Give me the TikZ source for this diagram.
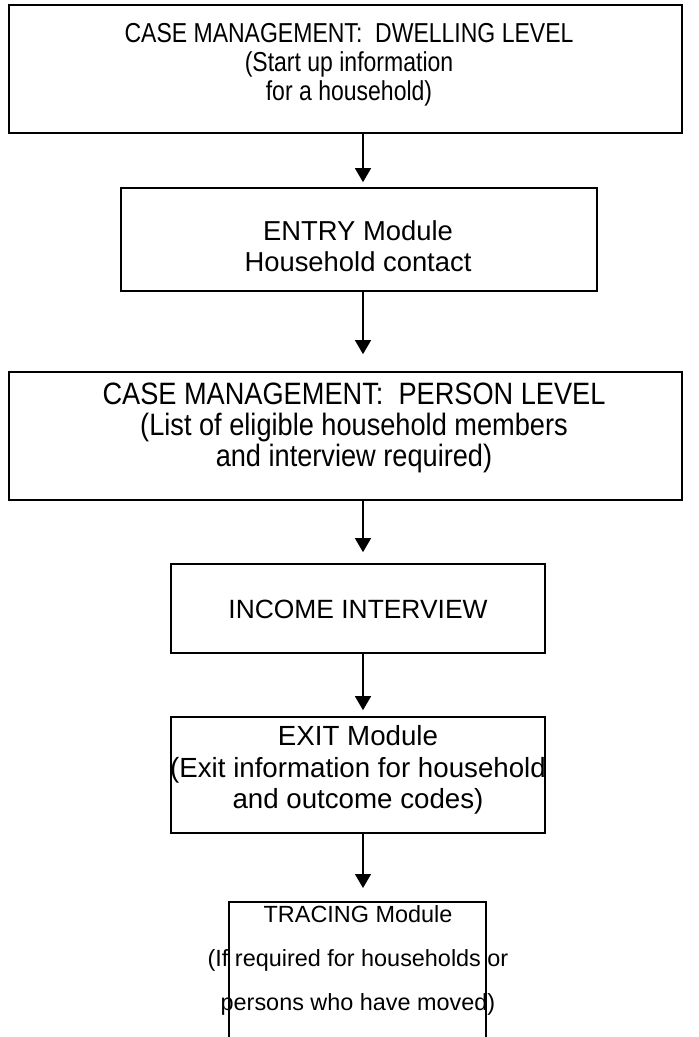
\documentclass[tikz,border=0pt]{standalone}
\usepackage{fontspec}
\setmainfont{Liberation Sans}
\newfontfamily\narrowfont[FakeStretch=0.84]{Liberation Sans}
\newfontfamily\narrowfontb[FakeStretch=0.88]{Liberation Sans}
\usetikzlibrary{arrows.meta}
\begin{document}
\begin{tikzpicture}[x=1bp,y=-1bp,
  box/.style={draw, line width=1.7bp, inner sep=0pt},
  txt/.style={align=center, inner sep=0pt},
  arr/.style={line width=1.4bp, -{Triangle[width=16bp,length=14bp]}}]
\useasboundingbox (0,0) rectangle (699,1037);
\fill[white] (0,0) rectangle (699,1037);
% boxes
\node[box, minimum width=673bp, minimum height=128bp] (b1) at (345.5,69) {};
\node[box, minimum width=476bp, minimum height=103bp] (b2) at (359,239.5) {};
\node[box, minimum width=673bp, minimum height=128bp] (b3) at (345.5,436) {};
\node[box, minimum width=374bp, minimum height=89bp] (b4) at (358,608.5) {};
\node[box, minimum width=374bp, minimum height=116bp] (b5) at (358,775) {};
\coordinate (b6tl) at (229,902);
\coordinate (b6tr) at (486,902);
\coordinate (b6bl) at (229,1037);
\coordinate (b6br) at (486,1037);
\draw[line width=1.7bp] (b6bl) -- (b6tl) -- (b6tr) -- (b6br);
% texts
\node[txt, font=\narrowfont\fontsize{27.5}{29}\selectfont] (t1) at (349,65) {CASE MANAGEMENT:\ \ DWELLING LEVEL\\(Start up information\\for a household)};
\node[txt, font=\fontsize{27.5}{31}\selectfont] (t2) at (358,246) {ENTRY Module\\Household contact};
\node[txt, font=\narrowfontb\fontsize{31}{31.5}\selectfont] (t3) at (354,428) {CASE MANAGEMENT:\ \ PERSON LEVEL\\(List of eligible household members\\and interview required)};
\node[txt, font=\fontsize{26.5}{31}\selectfont] (t4) at (358,609) {INCOME INTERVIEW};
\node[txt, font=\fontsize{27.8}{31.5}\selectfont] (t5) at (358,770) {EXIT Module\\(Exit information for household\\and outcome codes)};
\node[txt, font=\fontsize{23.5}{44.5}\selectfont, anchor=north] (t6) at (358,905) {TRACING Module\\(If required for households or\\persons who have moved)};
% arrows
\coordinate (ax) at (363,0);
\draw[arr] (b1.south -| ax) -- ([yshift=5bp]b2.north -| ax);
\draw[arr] (b2.south -| ax) -- ([yshift=17bp]b3.north -| ax);
\draw[arr] (b3.south -| ax) -- ([yshift=11bp]b4.north -| ax);
\draw[arr] (b4.south -| ax) -- ([yshift=6bp]b5.north -| ax);
\draw[arr] (b5.south -| ax) -- ([yshift=14bp]b6tl -| ax);
\end{tikzpicture}
\end{document}
